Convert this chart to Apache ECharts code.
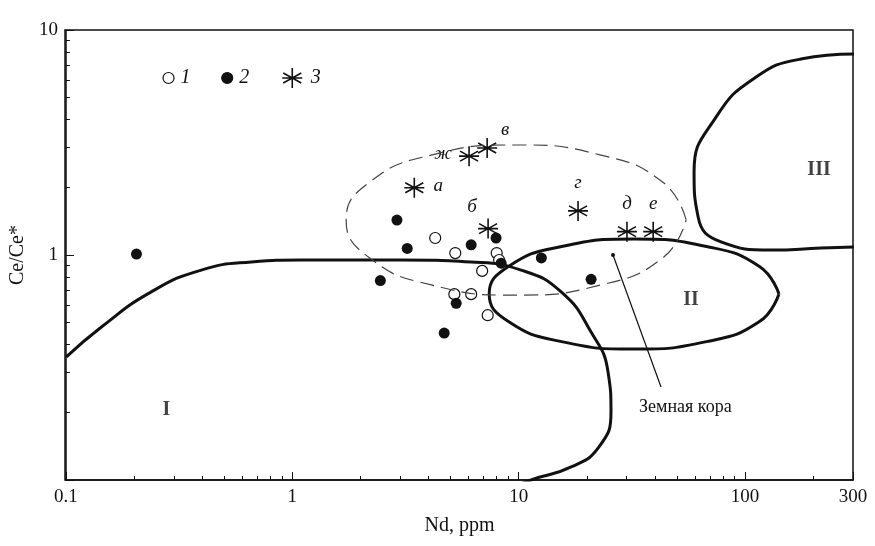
<!DOCTYPE html>
<html><head><meta charset="utf-8">
<script src="https://cdn.jsdelivr.net/npm/echarts@6/dist/echarts.min.js"></script>
<style>html,body{margin:0;background:#fff}#c{width:875px;height:546px}</style>
</head><body><div id="c"></div>
<script>
// values in real units (Nd ppm, Ce/Ce*)
const openPts = [[4.28,1.19],[5.25,1.02],[5.2,0.67],[6.17,0.67],[6.9,0.85],[7.3,0.54],[8.0,1.02],[8.2,0.95]];
const filledPts = [[0.205,1.01],[2.9,1.43],[3.22,1.07],[2.45,0.77],[6.17,1.11],[7.95,1.19],[8.37,0.92],[5.3,0.61],[4.69,0.45],[12.6,0.97],[20.9,0.78]];
const starPts = [[3.46,1.99,'а'],[6.04,2.75,'ж'],[7.26,2.99,'в'],[7.33,1.31,'б'],[18.3,1.57,'г'],[30.1,1.27,'д'],[39.3,1.27,'е']];
const legendPts = [[0.284,6.12,'1'],[0.516,6.12,'2'],[1.0,6.12,'3']];
// contours, stored as log10 values
const curveI = [[-0.998,-0.453],[-0.843,-0.32],[-0.623,-0.164],[-0.402,-0.067],[-0.181,-0.031],[0.04,-0.022],[0.481,-0.022],[0.79,-0.031],[1.011,-0.067],[1.188,-0.164],[1.32,-0.342],[1.395,-0.52],[1.408,-0.698],[1.355,-0.853],[1.232,-0.942],[1.055,-1.0],[0.923,-1.053]];
const ellipseII = [[2.15,-0.173],[2.064,-0.051],[1.83,0.038],[1.51,0.071],[1.19,0.038],[0.955,-0.051],[0.87,-0.173],[0.955,-0.296],[1.19,-0.385],[1.51,-0.418],[1.83,-0.385],[2.064,-0.296],[2.15,-0.173]];
const dashed = [[1.74,0.156],[1.639,0.322],[1.364,0.444],[0.989,0.489],[0.614,0.444],[0.339,0.322],[0.238,0.156],[0.339,-0.011],[0.614,-0.133],[0.989,-0.178],[1.364,-0.133],[1.639,-0.011],[1.74,0.156]];
const curveIII = [[2.481,0.893],[2.247,0.871],[2.049,0.791],[1.872,0.613],[1.775,0.369],[1.793,0.169],[1.894,0.058],[2.115,0.022],[2.336,0.031],[2.481,0.036]];
const regionLabels = [[-0.556,-0.689,'I'],[1.762,-0.2,'II'],[2.327,0.378,'III']];
const crustLine = [[1.417,0.0],[1.629,-0.587]];
const xTicks = ['0.1','1','10','100','300'];

const un = a => a.map(p => [Math.pow(10,p[0]), Math.pow(10,p[1])].concat(p.slice(2)));
const F = 'Liberation Serif, Times New Roman, serif';
const STAR = 'path://M0,-10L0,10M-9,-5L9,5M-9,5L9,-5M-10,0L10,0';
const thick = (d, extra) => Object.assign({type:'line', data:un(d), smooth:0.5, symbol:'none', silent:true,
  lineStyle:{color:'#111', width:3}}, extra||{});

const chart = echarts.init(document.getElementById('c'));
chart.setOption({
  animation:false,
  grid:{left:65,right:22,top:30,bottom:66},
  xAxis:{type:'log', min:0.1, max:300, logBase:10, name:'Nd, ppm', nameLocation:'middle', nameGap:36,
    nameTextStyle:{fontFamily:F,fontSize:20,color:'#111'},
    axisLine:{lineStyle:{color:'#111',width:1.5}}, axisTick:{inside:true,length:8,lineStyle:{color:'#111'}},
    minorTick:{show:true,splitNumber:9,length:4},
    axisLabel:{fontFamily:F,fontSize:19,color:'#111',showMaxLabel:true, formatter:v=>{const s=+v.toPrecision(3);return xTicks.includes(String(s))?String(s):'';}},
    splitLine:{show:false}},
  yAxis:{type:'log', min:0.1, max:10, logBase:10, name:'Ce/Ce*', nameLocation:'middle', nameGap:36,
    nameTextStyle:{fontFamily:F,fontSize:20,color:'#111'},
    axisLine:{lineStyle:{color:'#111',width:1.5}}, axisTick:{inside:true,length:8,lineStyle:{color:'#111'}},
    minorTick:{show:true,splitNumber:9,length:4},
    axisLabel:{fontFamily:F,fontSize:19,color:'#111',formatter:v=>{const s=+v.toPrecision(3);return s===0.1?'':String(s);}},
    splitLine:{show:false}},
  graphic:[{type:'rect',shape:{x:65,y:30,width:788,height:450},style:{fill:'none',stroke:'#111',lineWidth:1.5},silent:true,z:100}],
  series:[
    thick(curveI),
    thick(ellipseII),
    thick(curveIII),
    thick(dashed,{lineStyle:{color:'#444',width:1.2,type:[14,7]}}),
    {type:'line', data:un(crustLine), symbol:'none', silent:true, lineStyle:{color:'#111',width:1.2},
      markPoint:{symbol:'circle',symbolSize:4,itemStyle:{color:'#111'},label:{show:false},data:[{coord:un(crustLine)[0]}]},
      endLabel:{show:true,formatter:'Земная кора',fontFamily:F,fontSize:18,color:'#111',offset:[-30,20]}},
    {type:'scatter', data:un(regionLabels), symbolSize:0, silent:true,
      label:{show:true,position:'inside',formatter:p=>p.data[2],fontFamily:F,fontSize:20,fontWeight:'bold',color:'#111'}},
    {type:'scatter', data:openPts, symbol:'circle', symbolSize:11, itemStyle:{color:'#fff',borderColor:'#111',borderWidth:1.2,opacity:1}},
    {type:'scatter', data:filledPts, symbol:'circle', symbolSize:11, itemStyle:{color:'#111',opacity:1}},
    {type:'scatter', data:starPts, symbol:STAR, symbolSize:20,
      itemStyle:{color:'none',borderColor:'#111',borderWidth:1.6,opacity:1},
      label:{show:true,formatter:p=>p.data[2],fontFamily:F,fontStyle:'italic',fontSize:19,color:'#111',position:'top',distance:6},
      labelLayout:p=>{const t=starPts[p.dataIndex][2];
        if(t==='а')return{dx:24,dy:26};if(t==='ж')return{dx:-26,dy:26};if(t==='в')return{dx:18,dy:10};if(t==='б')return{dx:-16,dy:6};return{};}},
    {type:'scatter', symbol:'circle', symbolSize:11,
      data:legendPts.map((p,i)=>i===2?{value:p,symbol:STAR,symbolSize:20,itemStyle:{color:'none',borderColor:'#111',borderWidth:1.6}}
        :{value:p,itemStyle:{color:i===1?'#111':'#fff',borderColor:'#111',borderWidth:1.2}}),
      itemStyle:{opacity:1},
      label:{show:true,position:'right',distance:6,formatter:p=>p.value[2],fontFamily:F,fontStyle:'italic',fontSize:20,color:'#111'}}
  ]
});
</script></body></html>
